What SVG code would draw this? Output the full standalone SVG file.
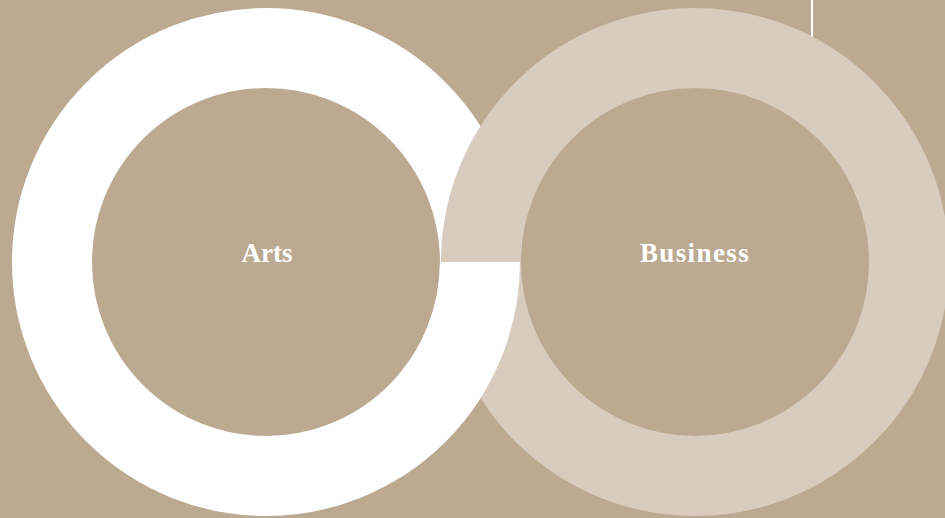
<svg xmlns="http://www.w3.org/2000/svg" width="945" height="518" viewBox="0 0 945 518">
<style>
.lbl{font-family:"Liberation Serif","DejaVu Serif",serif;font-weight:bold;font-size:27px;fill:#ffffff;text-anchor:middle}
</style>
<defs>
<clipPath id="lower"><rect x="400" y="262" width="160" height="260"/></clipPath>
</defs>
<rect width="945" height="518" fill="#bca991"/>
<g id="connectors">
<line x1="812" y1="0" x2="812" y2="37" stroke="#ffffff" stroke-width="2"/>
</g>
<g id="arts">
<circle cx="266" cy="262" r="214" fill="none" stroke="#ffffff" stroke-width="80"/>
</g>
<g id="business">
<circle cx="695" cy="262" r="214" fill="none" stroke="#d8ccbf" stroke-width="80"/>
<text class="lbl" x="695" y="262" letter-spacing="1.4">Business</text>
</g>
<g id="arts-over">
<circle cx="266" cy="262" r="214" fill="none" stroke="#ffffff" stroke-width="80" clip-path="url(#lower)"/>
<text class="lbl" x="267" y="262">Arts</text>
</g>
</svg>
